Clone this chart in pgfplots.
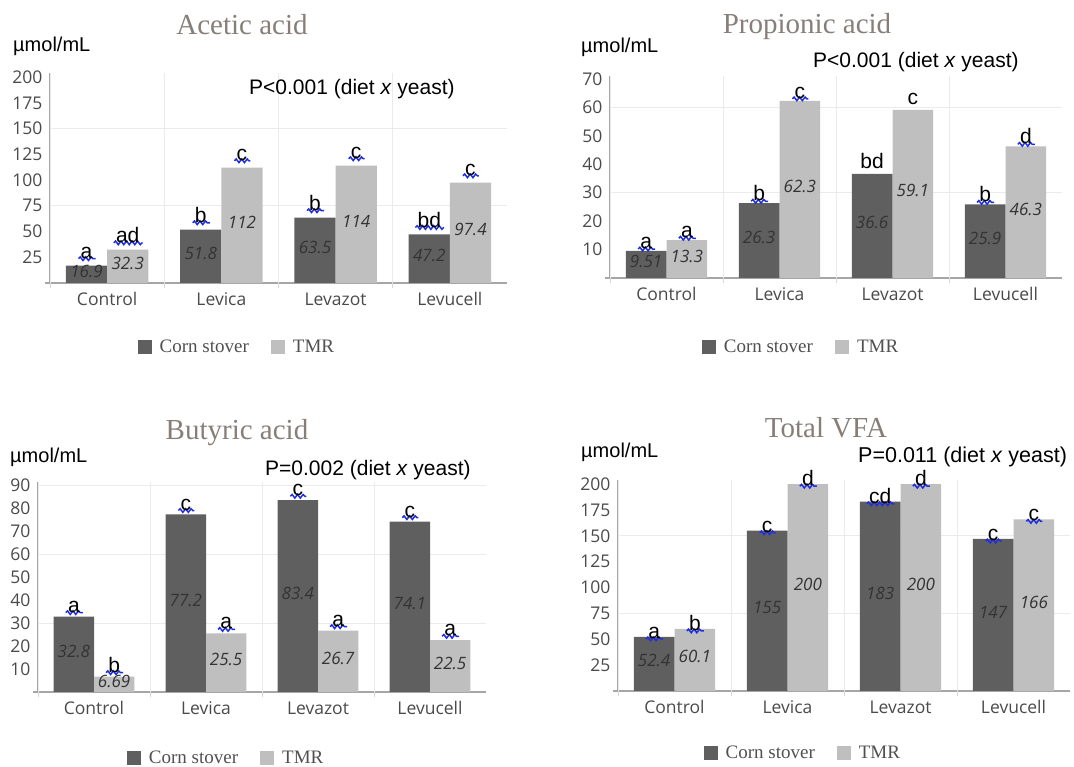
\documentclass[border=0pt]{standalone}
\usepackage{fontspec}
\usepackage{pgfplots}
\usepackage{pgfplotstable}
\usetikzlibrary{decorations.pathmorphing}
\pgfplotsset{compat=1.18}
\newfontfamily\os{Open Sans}
\newfontfamily\ar{Liberation Sans}
\newfontfamily\tm{Liberation Serif}
\definecolor{csc}{HTML}{5F5F5F}
\definecolor{tmrc}{HTML}{BFBFBF}
\definecolor{axisc}{HTML}{A6A6A6}
\definecolor{gridc}{HTML}{EBEBEB}
\definecolor{tickc}{HTML}{4A4A4A}
\definecolor{titc}{HTML}{877E78}
\definecolor{valc}{HTML}{333333}
\definecolor{legc}{HTML}{505050}
\definecolor{wavec}{HTML}{1F2FE0}
\newcommand\letfont{\ar\fontsize{21}{21}\selectfont}
\newcommand\valfont{\os\itshape\fontsize{17}{17}\selectfont}

% Acetic
\pgfplotstableread{
x y let
-0.18 16.9 a
0.82 51.8 b
1.82 63.5 b
2.82 47.2 bd
}\acCS
\pgfplotstableread{
x y let
0.18 32.3 ad
1.18 112 c
2.18 114 c
3.18 97.4 c
}\acTM
% Propionic
\pgfplotstableread{
x y let
-0.18 9.51 a
0.82 26.3 b
1.82 36.6 bd
2.82 25.9 b
}\prCS
\pgfplotstableread{
x y let
0.18 13.3 a
1.18 62.3 c
2.18 59.1 c
3.18 46.3 d
}\prTM
% Butyric
\pgfplotstableread{
x y let
-0.18 32.8 a
0.82 77.2 c
1.82 83.4 c
2.82 74.1 c
}\buCS
\pgfplotstableread{
x y let
0.18 6.69 b
1.18 25.5 a
2.18 26.7 a
3.18 22.5 a
}\buTM
% Total VFA
\pgfplotstableread{
x y let
-0.18 52.4 a
0.82 155 c
1.82 183 cd
2.82 147 c
}\toCS
\pgfplotstableread{
x y let
0.18 60.1 b
1.18 200 d
2.18 200 d
3.18 166 c
}\toTM

\tikzset{
  wave/.style={append after command={\pgfextra{\pgfinterruptpath
    \draw[draw=wavec, line width=1.5pt, decorate, decoration={snake, amplitude=1.8pt, segment length=5.5pt}]
    ([xshift=-1pt,yshift=-0.5pt]\tikzlastnode.base west) -- ([xshift=2pt,yshift=-0.5pt]\tikzlastnode.base east);
    \endpgfinterruptpath}}},
}

\pgfplotsset{
  vfa/.style={
    scale only axis, anchor=south west,
    xmin=-0.5, xmax=3.5, ymin=0,
    xtick={0,1,2,3}, xticklabels={Control,Levica,Levazot,Levucell},
    major tick length=0pt, minor tick length=0pt,
    axis x line*=bottom, axis y line*=left,
    axis line style={draw=axisc, line width=1.3pt, -},
    extra x ticks={-0.5,0.5,1.5,2.5}, extra x tick labels={},
    extra x tick style={grid=major, major grid style={draw=gridc, line width=0.9pt},
      major tick length=5pt, tick align=outside, tick style={draw=gridc!70!axisc, line width=0.9pt}},
    extra y ticks={0}, extra y tick labels={},
    extra y tick style={major tick length=5pt, tick align=outside, tick style={draw=axisc, line width=1.2pt}},
    yminorgrids, minor grid style={draw=gridc, line width=0.9pt},
    tick label style={font=\os\fontsize{17.5}{20}\selectfont, text=tickc},
    /pgf/number format/assume math mode=true,
    yticklabel style={xshift=-4pt},
    xticklabel style={yshift=-6pt},
    clip=false,
    legend columns=2,
    legend style={draw=none, fill=none, font=\tm\fontsize{19}{19}\selectfont, text=legc,
      anchor=center, /tikz/every even column/.append style={column sep=20pt},
      /tikz/every odd column/.append style={column sep=6pt},
      inner sep=0pt},
    legend image code/.code={\fill[##1] (0pt,-7pt) rectangle (14pt,7pt);},
  },
  bars/.style={ybar, bar width=0.36, bar shift=0pt, draw=none},
  letp/.style={forget plot, draw=none, mark=none,
    nodes near coords, point meta=explicit symbolic,
    every node near coord/.append style={anchor=south, inner sep=1pt, font=\letfont, text=black, yshift=#1, wave}},
  letpn/.style={forget plot, draw=none, mark=none,
    nodes near coords, point meta=explicit symbolic,
    every node near coord/.append style={anchor=south, inner sep=1pt, font=\letfont, text=black, yshift=#1}},
  vlab/.style={forget plot, draw=none, mark=none,
    nodes near coords, point meta=explicit symbolic,
    every node near coord/.append style={anchor=center, yshift=3pt, font=\valfont, text=valc}},
}

\begin{document}
\begin{tikzpicture}
\path[use as bounding box] (0pt,0pt) rectangle (1074pt,766pt);

% ---------- Acetic acid ----------
\begin{axis}[vfa, at={(50pt,483pt)}, width=457pt, height=210pt, ymax=204,
  ytick={25,50,...,200}, minor ytick={75,150},
  legend style={at={(0.409,-0.305)}}]
\addplot[bars, fill=csc] table[x=x,y=y] {\acCS};
\addlegendentry{Corn stover}
\addplot[bars, fill=tmrc] table[x=x,y=y] {\acTM};
\addlegendentry{TMR}
\addplot[letp=6pt] table[x=x,y=y,meta=let] {\acCS};
\addplot[letp=6pt] table[x=x,y=y,meta=let] {\acTM};
\addplot[vlab] table[x=x, y expr=\thisrow{y}/2, meta=y] {\acCS};
\addplot[vlab] table[x=x, y expr=\thisrow{y}/2, meta=y] {\acTM};
\end{axis}

% ---------- Propionic acid ----------
\begin{axis}[vfa, at={(610pt,488pt)}, width=452pt, height=202pt, ymax=71,
  ytick={10,20,...,70}, minor ytick={30,60},
  legend style={at={(0.4226,-0.342)}}]
\addplot[bars, fill=csc] table[x=x,y=y] {\prCS};
\addlegendentry{Corn stover}
\addplot[bars, fill=tmrc] table[x=x,y=y] {\prTM};
\addlegendentry{TMR}
\addplot[letp=1pt, skip coords between index={2}{3}] table[x=x,y=y,meta=let] {\prCS};
\addplot[letp=1pt, skip coords between index={2}{3}] table[x=x,y=y,meta=let] {\prTM};
\addplot[letpn=4pt, skip coords between index={0}{2}, skip coords between index={3}{4}] table[x=x,y=y,meta=let] {\prCS};
\addplot[letpn=4pt, skip coords between index={0}{2}, skip coords between index={3}{4}] table[x=x,y=y,meta=let] {\prTM};
\addplot[vlab] table[x=x, y expr=\thisrow{y}/2, meta=y] {\prCS};
\addplot[vlab] table[x=x, y expr=\thisrow{y}/2, meta=y] {\prTM};
\end{axis}

% ---------- Butyric acid ----------
\begin{axis}[vfa, at={(38pt,74pt)}, width=448pt, height=210pt, ymax=91.3,
  ytick={10,20,...,90}, minor ytick={30,60,90},
  legend style={at={(0.42,-0.314)}}]
\addplot[bars, fill=csc] table[x=x,y=y] {\buCS};
\addlegendentry{Corn stover}
\addplot[bars, fill=tmrc] table[x=x,y=y] {\buTM};
\addlegendentry{TMR}
\addplot[letp=3pt] table[x=x,y=y,meta=let] {\buCS};
\addplot[letp=3pt] table[x=x,y=y,meta=let] {\buTM};
\addplot[vlab] table[x=x, y expr=\thisrow{y}/2, meta=y] {\buCS};
\addplot[vlab] table[x=x, y expr=\thisrow{y}/2, meta=y] {\buTM};
\end{axis}

% ---------- Total VFA ----------
\begin{axis}[vfa, at={(618pt,75pt)}, width=452pt, height=211pt, ymax=204,
  ytick={25,50,...,200}, minor ytick={75,150},
  legend style={at={(0.409,-0.294)}}]
\addplot[bars, fill=csc] table[x=x,y=y] {\toCS};
\addlegendentry{Corn stover}
\addplot[bars, fill=tmrc] table[x=x,y=y] {\toTM};
\addlegendentry{TMR}
\addplot[letp=-3pt] table[x=x,y=y,meta=let] {\toCS};
\addplot[letp=-3pt] table[x=x,y=y,meta=let] {\toTM};
\addplot[vlab] table[x=x, y expr=\thisrow{y}/2, meta=y] {\toCS};
\addplot[vlab] table[x=x, y expr=\thisrow{y}/2, meta=y] {\toTM};
\end{axis}

% ---------- titles and texts ----------
\begin{scope}[every node/.style={inner sep=0pt}]
\node[text=titc, font=\tm\fontsize{29}{29}\selectfont] at (242pt,741pt) {Acetic acid};
\node[text=titc, font=\tm\fontsize{29}{29}\selectfont] at (807pt,739pt) {Propionic acid};
\node[text=titc, font=\tm\fontsize{29}{29}\selectfont] at (237pt,333pt) {Butyric acid};
\node[text=titc, font=\tm\fontsize{29}{29}\selectfont] at (826pt,338pt) {Total VFA};

\node[anchor=base west, font=\ar\fontsize{20}{20}\selectfont] at (13pt,714pt) {µmol/mL};
\node[anchor=base west, font=\ar\fontsize{20}{20}\selectfont] at (581pt,713pt) {µmol/mL};
\node[anchor=base west, font=\ar\fontsize{20}{20}\selectfont] at (10pt,303pt) {µmol/mL};
\node[anchor=base west, font=\ar\fontsize{20}{20}\selectfont] at (581pt,308pt) {µmol/mL};

\node[anchor=base west, font=\ar\fontsize{21}{21}\selectfont] at (249pt,671pt) {P<0.001 (diet \textit{x} yeast)};
\node[anchor=base west, font=\ar\fontsize{21}{21}\selectfont] at (813pt,698pt) {P<0.001 (diet \textit{x} yeast)};
\node[anchor=base west, font=\ar\fontsize{21}{21}\selectfont] at (265pt,290pt) {P=0.002 (diet \textit{x} yeast)};
\node[anchor=base west, font=\ar\fontsize{21.5}{21.5}\selectfont] at (858pt,303pt) {P=0.011 (diet \textit{x} yeast)};
\end{scope}
\end{tikzpicture}
\end{document}
